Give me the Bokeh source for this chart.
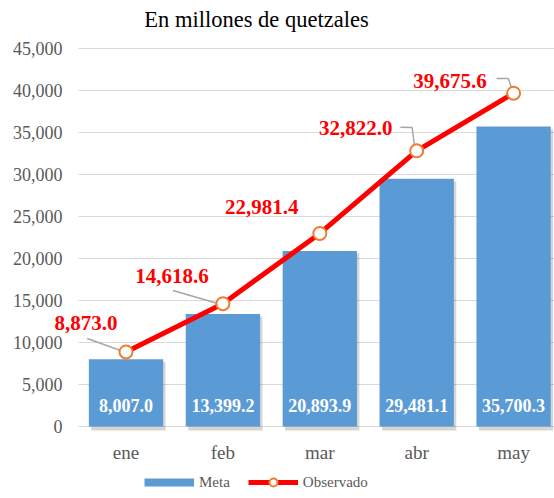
from bokeh.plotting import figure
from bokeh.models import (ColumnDataSource, Range1d, FixedTicker, NumeralTickFormatter,
                          LabelSet, Legend, LegendItem)
from bokeh.transform import dodge
from bokeh.core.properties import value
from bokeh.embed import file_html
from bokeh.resources import INLINE

# ---- data ----
months = ["ene", "feb", "mar", "abr", "may"]
meta = [8007.0, 13399.2, 20893.9, 29481.1, 35700.3]
observado = [8873.0, 14618.6, 22981.4, 32822.0, 39675.6]
y_ticks = [0, 5000, 10000, 15000, 20000, 25000, 30000, 35000, 40000, 45000]
subtitle = "En millones de quetzales"
series_names = ["Meta", "Observado"]

# ---- styles / layout ----
BLUE = "#5B9BD5"
RED = "#FF0000"
ORANGE = "#ED7D31"
GRID = "#D9D9D9"
TXT = "#595959"
SERIF = "Liberation Serif"
SERIF_Q = '"Liberation Serif", serif'

W, H = 554, 498
PXX = 96.9                     # px per category
PXY = 378.0 / 45000            # px per value unit
CX0 = 125.5                    # page x of first category
ZERO_Y = 426.0                 # page y of value 0
PLOT_LEFT = 77.0               # page x where the plotting area starts
X0 = -CX0 / PXX
X1 = X0 + W / PXX
Y1 = ZERO_Y / PXY
Y0 = Y1 - H / PXY
XLEFT = X0 + PLOT_LEFT / PXX   # value-axis position

# label offsets in pixels (center of label relative to point)
obs_dx = [-40, -51, -58, -61, -63.5]
obs_dy = [28.5, 28, 26, 23, 12]
# leader-line paths in pixel offsets relative to point
leader_px = [
    [(-38.8, 13.5), (-5.5, 1.5)],
    [(-50, 13.2), (-6, 0.5)],
    None,
    [(-16.3, 23.6), (-4.6, 23.3), (-2.3, 5.8)],
    [(-17, 14.7), (-5.3, 14.7), (-2, 5.2)],
]

x = list(range(len(months)))
nan = float("nan")

p = figure(width=W, height=H, output_backend="svg", toolbar_location=None,
           x_range=Range1d(X0, X1), y_range=Range1d(Y0, Y1),
           min_border=0, min_border_left=0, min_border_top=0,
           min_border_bottom=0, min_border_right=0)
p.outline_line_color = None
p.background_fill_color = "white"
p.border_fill_color = "white"

src = ColumnDataSource(dict(x=x, meta=meta, obs=observado,
                            meta_txt=[f"{v:,.1f}" for v in meta],
                            obs_txt=[f"{v:,.1f}" for v in observado],
                            dx=obs_dx, dy=obs_dy,
                            shadow_top=[v - 300 for v in meta]))

# horizontal grid lines at the axis ticks
p.segment(x0=XLEFT + 1 / PXX, x1=X1, y0=y_ticks, y1=y_ticks, line_color=GRID,
          line_width=1, level="underlay")

# bar shadow
p.vbar(x=dodge("x", 0.025, range=p.x_range), top="shadow_top", bottom=-480, width=0.767,
       source=src, fill_color="#000000", fill_alpha=0.16, line_color=None)
bars = p.vbar(x="x", top="meta", bottom=0, width=0.767, source=src,
              fill_color=BLUE, line_color=None)

# leader lines
lxs, lys = [], []
for i, path in enumerate(leader_px):
    if path is None:
        continue
    lxs.append([x[i] + dx / PXX for dx, dy in path])
    lys.append([observado[i] + dy / PXY for dx, dy in path])
p.multi_line(xs=lxs, ys=lys, line_color="#A6A6A6", line_width=1.5)

line = p.line(x="x", y="obs", source=src, line_color=RED, line_width=5)
pts = p.scatter(x="x", y="obs", source=src, size=13, fill_color="white",
                line_color=ORANGE, line_width=2)

# legend swatch for bars (thin band like the reference); draws nothing in the plot
meta_swatch = p.line(x=x[:2], y=[nan, nan], line_color=BLUE, line_width=8,
                     line_cap="butt")

# bar value labels
p.add_layout(LabelSet(x="x", y=0, text="meta_txt", source=src, y_offset=21,
                      text_align="center", text_baseline="middle",
                      text_color="white", text_font=value(SERIF),
                      text_font_size="18px", text_font_style="bold"))
# observed labels
p.add_layout(LabelSet(x="x", y="obs", text="obs_txt", source=src,
                      x_offset="dx", y_offset="dy",
                      text_align="center", text_baseline="middle",
                      text_color=RED, text_font=value(SERIF),
                      text_font_size="21px", text_font_style="bold"))

# subtitle
sub_src = ColumnDataSource(dict(x=[X0 + 256 / PXX], y=[(ZERO_Y - 19) / PXY],
                                t=[subtitle]))
p.add_layout(LabelSet(x="x", y="y", text="t", source=sub_src, text_align="center",
                      text_baseline="middle", text_font=value(SERIF),
                      text_font_size="22.5px", text_color="black"))

# axes (drawn at fixed positions inside the canvas)
p.xaxis.fixed_location = 0
p.yaxis.fixed_location = XLEFT
p.xaxis.ticker = FixedTicker(ticks=x)
p.xaxis.major_label_overrides = {i: m for i, m in zip(x, months)}
p.yaxis.ticker = FixedTicker(ticks=y_ticks)
p.yaxis.formatter = NumeralTickFormatter(format="0,0")
for ax in (p.xaxis, p.yaxis):
    ax.axis_line_color = None
    ax.major_tick_line_color = None
    ax.minor_tick_line_color = None
    ax.major_label_text_font = SERIF
    ax.major_label_text_color = TXT
p.xaxis.major_label_text_font_size = "19px"
p.yaxis.major_label_text_font_size = "18px"
p.xaxis.major_label_standoff = 9
p.yaxis.major_label_standoff = 9
p.xgrid.grid_line_color = None
p.ygrid.grid_line_color = None

# legend
leg = Legend(items=[LegendItem(label=series_names[0], renderers=[meta_swatch]),
                    LegendItem(label=series_names[1], renderers=[line, pts])],
             location=(144, 6), orientation="horizontal",
             glyph_width=50, glyph_height=20, label_height=20, label_standoff=5,
             spacing=18, padding=0, margin=0, border_line_color=None,
             background_fill_alpha=0,
             label_text_font=SERIF_Q, label_text_font_size="15px", label_text_color=TXT)
p.add_layout(leg)

open("out.html", "w").write(file_html(p, INLINE))
